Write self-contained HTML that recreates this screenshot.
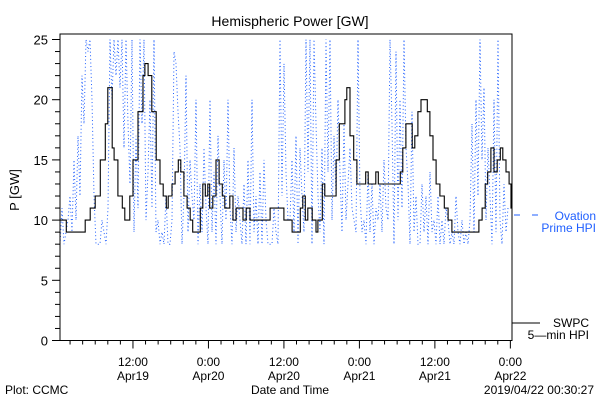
<!DOCTYPE html>
<html><head><meta charset="utf-8"><style>
html,body{margin:0;padding:0;background:#fff;}
svg{display:block;font-family:"Liberation Sans",sans-serif;}
</style></head><body>
<svg id="chart" width="600" height="400" viewBox="0 0 600 400" xmlns="http://www.w3.org/2000/svg">
<rect x="0" y="0" width="600" height="400" fill="#fff"/>
<text x="290" y="26" font-size="14" text-anchor="middle">Hemispheric Power [GW]</text>
<text x="0" y="0" font-size="13" text-anchor="middle" transform="translate(19,190) rotate(-90)">P [GW]</text>
<g id="plot"></g>
<g id="axes"></g>
<g>
<line x1="514" y1="215" x2="540" y2="215" stroke="#1f5fff" stroke-width="1" stroke-dasharray="6,12"/>
<text x="596" y="220" font-size="12" fill="#1f5fff" text-anchor="end">Ovation</text>
<text x="596" y="232" font-size="12" fill="#1f5fff" text-anchor="end">Prime HPI</text>
<line x1="512" y1="323" x2="540" y2="323" stroke="#000" stroke-width="1"/>
<text x="589" y="327" font-size="12" text-anchor="end">SWPC</text>
<text x="589" y="339" font-size="12" text-anchor="end">5—min HPI</text>
</g>
<text x="290" y="394" font-size="12" text-anchor="middle">Date and Time</text>
<text x="5" y="394" font-size="12">Plot: CCMC</text>
<text x="594" y="394" font-size="12" text-anchor="end">2019/04/22 00:30:27</text>
</svg>
<script>
// SWPC 5-min HPI (hours since start of plot, ~00:24 Apr19)
const swpcHours = [0,0.6,1.0,3.2,4.0,4.8,5.6,6.4,7.2,7.6,8.3,8.6,9.2,9.9,10.3,10.8,11.1,11.6,12.4,13.2,13.5,14.0,14.6,15.3,15.9,16.4,16.9,17.2,17.8,18.3,18.8,19.2,19.7,20.2,20.7,21.1,21.6,22.3,22.7,23.1,23.5,23.8,24.3,24.8,25.3,25.8,26.2,26.7,27.0,27.5,28.0,28.6,29.1,29.6,30.2,33.4,35.6,36.9,38.2,38.6,39.0,39.4,40.1,40.7,41.0,41.7,42.1,43.9,44.4,44.8,45.3,45.6,46.1,46.7,47.2,48.6,49.0,50.2,50.6,54.1,54.5,55.0,55.5,56.0,56.4,56.9,57.4,57.9,58.4,58.8,59.3,59.8,60.4,61.1,61.7,62.3,66.6,67.1,67.6,68.0,68.5,69.0,69.5,70.0,70.4,70.9,71.4,71.7];
const swpcValues = [10,10,9,9,10,11,12,15,18,21,16,15,12,11,10,10,12,15,19,22,23,22,19,15,13,12,11,12,13,14,15,14,12,11,10,9,9,11,13,12,13,11,12,15,13,12,11,11,12,10,11,11,10,11,10,11,10,9,11,12,10,11,10,9,10,13,12,15,18,18,20,21,17,15,13,14,13,14,13,14,16,18,18,16,17,19,20,20,19,17,15,13,12,11,10,9,10,11,13,14,16,14,15,16,15,14,13,11];
// Ovation Prime HPI (uniform samples)
const ovationStartHour = 0;
const ovationStepHours = 0.318;
const ovationValues = [8,11,8,9,10,12,9,15,10,17,12,22,18,25,24,25,20,12,8,8,8,10,9,8,11,25,20,25,22,25,21,25,16,25,18,13,25,9,17,11,25,18,25,10,14,20,11,25,9,10,8,9,8,12,8,8,10,24,23,19,16,8,12,22,9,15,12,10,20,8,13,9,16,11,8,20,9,14,8,17,12,8,15,10,20,11,8,16,9,12,10,8,13,8,15,8,20,9,12,8,14,8,15,10,8,8,8,11,9,8,25,12,23,14,10,10,15,9,17,8,16,12,9,25,14,25,8,25,18,12,9,16,8,25,14,25,10,17,12,20,14,9,18,10,13,16,11,10,9,25,12,9,10,8,14,9,13,8,11,10,13,9,15,11,10,25,18,8,24,10,20,11,25,16,13,8,19,9,12,8,8,13,9,12,8,14,9,10,8,12,8,10,8,11,10,8,9,8,12,9,8,10,8,9,8,10,18,9,20,12,25,15,21,10,16,12,8,20,9,25,10,8,13,9,11];
const yTicks = [0,5,10,15,20,25];
const xMajorHours = [11.6,23.6,35.6,47.6,59.6,71.6];
const xLabelTop = ["12:00","0:00","12:00","0:00","12:00","0:00"];
const xLabelBottom = ["Apr19","Apr20","Apr20","Apr21","Apr21","Apr22"];

const NS="http://www.w3.org/2000/svg";
const X0=60, X1=512, Y0=340.5, Ytop=34;
const pxPerHour=6.29, pxPerUnit=12.04;
const xs=h=>X0+h*pxPerHour;
const ys=v=>Y0-v*pxPerUnit;
const plot=document.getElementById('plot');
const axes=document.getElementById('axes');
function mk(tag,attrs,parent){const e=document.createElementNS(NS,tag);for(const k in attrs)e.setAttribute(k,attrs[k]);parent.appendChild(e);return e;}

const defs=mk('defs',{},plot);
const cp=mk('clipPath',{id:'clipP'},defs);
mk('rect',{x:X0,y:Ytop,width:X1-X0,height:Y0-Ytop},cp);

let d='';
ovationValues.forEach((v,i)=>{const x=xs(ovationStartHour+i*ovationStepHours);d+=(i?'L':'M')+x.toFixed(1)+','+ys(v).toFixed(1);});
const ov=mk('path',{d:d,fill:'none',stroke:'#1f5fff','stroke-width':1,'stroke-dasharray':'1,2.6','clip-path':'url(#clipP)'},plot);



d='';
swpcHours.forEach((h,i)=>{const x=xs(h).toFixed(1),y=ys(swpcValues[i]).toFixed(1);if(i===0)d+='M'+x+','+y;else d+='H'+x+'V'+y;});
d+='H'+X1;
const sw=mk('path',{d:d,fill:'none',stroke:'#000','stroke-width':1.1,'clip-path':'url(#clipP)'},plot);



const fr=mk('rect',{x:X0,y:Ytop,width:X1-X0,height:Y0-Ytop,fill:'none',stroke:'#000','stroke-width':1},axes);



for(let v=0;v<=25;v++){
  const major=v%5===0;
  const t=mk('line',{x1:X0-(major?8:5),x2:X0,y1:ys(v),y2:ys(v),stroke:'#000','stroke-width':1},axes);
  
  
}
yTicks.forEach(v=>{
  const t=mk('text',{x:48,y:ys(v)+5,'font-size':13,'text-anchor':'end'},axes);
  t.textContent=String(v);
  
  
});
for(let h=1.6;h<=72;h+=2){
  const major=xMajorHours.some(m=>Math.abs(m-h)<0.1);
  const t=mk('line',{x1:xs(h),x2:xs(h),y1:Y0,y2:Y0+(major?8:4),stroke:'#000','stroke-width':1},axes);
  
  
}
xMajorHours.forEach((h,i)=>{
  const t1=mk('text',{x:xs(h),y:366,'font-size':12,'text-anchor':'middle'},axes);
  t1.textContent=xLabelTop[i];
  
  
  const t2=mk('text',{x:xs(h),y:380,'font-size':12,'text-anchor':'middle'},axes);
  t2.textContent=xLabelBottom[i];
  
  
});
</script>
</body></html>
